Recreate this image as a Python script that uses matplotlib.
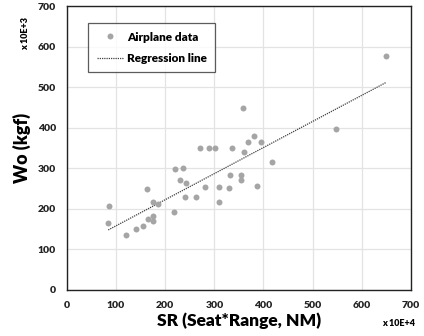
import numpy as np
import matplotlib
matplotlib.use("Agg")
import matplotlib.pyplot as plt

plt.rcParams['font.family'] = ['Lato', 'DejaVu Sans']
W = 'heavy'

sr = [85, 84, 120, 140, 154, 163, 164, 176, 176, 176, 186, 217, 220, 231, 237, 242,
      241, 263, 270, 281, 290, 301, 310, 310, 330, 332, 335, 354, 355, 359, 361, 369,
      381, 387, 394, 417, 547, 650]
wo = [207, 166, 136, 150, 157, 249, 176, 183, 171, 217, 212, 191, 298, 270, 301, 264,
      230, 228, 349, 255, 351, 351, 255, 218, 251, 283, 351, 272, 283, 448, 341, 365,
      379, 257, 365, 316, 398, 577]
reg_slope = 0.643
reg_intercept = 94.0
x_ticks = [0, 100, 200, 300, 400, 500, 600, 700]
y_ticks = [0, 100, 200, 300, 400, 500, 600, 700]

fig = plt.figure(figsize=(4.24, 3.36), dpi=100)
ax = fig.add_axes([0.158, 0.137, 0.811, 0.845])

ax.plot(sr, wo, 'o', color='#A5A5A5', markersize=4.3, markeredgewidth=0,
        label='Airplane data', zorder=3)
xr = np.array([min(sr), max(sr)])
ax.plot(xr, reg_slope * xr + reg_intercept, linestyle=(0, (1, 0.8)), color='#404040',
        linewidth=0.9, label='Regression line', zorder=2)

ax.set_xlim(0, 700)
ax.set_ylim(0, 700)
ax.set_xticks(x_ticks)
ax.set_yticks(y_ticks)
ax.set_xticklabels([str(v) for v in x_ticks], fontweight=W, fontsize=7.5, color='#222222')
ax.set_yticklabels([str(v) for v in y_ticks], fontweight=W, fontsize=7.5, color='#222222')
ax.tick_params(length=0, pad=8)
ax.grid(True, color='#E3E3E3', linewidth=0.9)
ax.set_axisbelow(True)
for s in ax.spines.values():
    s.set_color('#222222')
    s.set_linewidth(1.0)

ax.set_xlabel('SR (Seat*Range, NM)', fontweight=W, fontsize=12.5, labelpad=2)
ax.set_ylabel('Wo (kgf)', fontweight=W, fontsize=13, labelpad=5)

fig.text(0.9, 0.03, 'x 10E+4', fontweight=W, fontsize=6.5)
fig.text(0.06, 0.90, 'x 10E+3', fontweight=W, fontsize=6.5, rotation=90,
         ha='center', va='center')

leg = ax.legend(loc='upper left', bbox_to_anchor=(0.045, 0.96), prop={'weight': W, 'size': 8.5},
                frameon=True, fancybox=False, handlelength=2.2, borderpad=0.7,
                labelspacing=0.9, handletextpad=0.4)
leg.get_frame().set_edgecolor('#333333')
leg.get_frame().set_linewidth(0.9)

fig.savefig('out.png', dpi=100)
